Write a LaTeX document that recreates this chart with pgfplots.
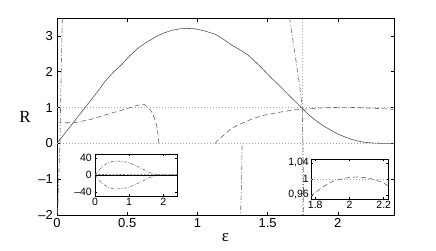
\documentclass[border=0pt]{standalone}
\usepackage{pgfplots}
\pgfplotsset{compat=1.18}
\usepackage{fontspec}
\setmainfont{Liberation Sans}
\newfontfamily\seriffont{Liberation Serif}
\definecolor{csolid}{gray}{0.33}
\definecolor{cdash}{gray}{0.40}
\definecolor{cdot}{gray}{0.65}
\definecolor{cdd}{gray}{0.42}
\pgfplotsset{
  solidc/.style={csolid, line width=0.6pt},
  dashc/.style={cdash, line width=0.6pt, dash pattern=on 5pt off 3pt},
  ddc/.style={cdd, line width=0.6pt, dash pattern=on 5pt off 2pt on 1pt off 2pt},
  dotc/.style={cdot, line width=0.6pt, dash pattern=on 1pt off 2pt},
}
\begin{document}
\begin{tikzpicture}
\useasboundingbox (0,0) rectangle (436pt,250pt);
\begin{axis}[
  at={(57pt,35pt)}, anchor=south west, scale only axis,
  width=337pt, height=197pt,
  xmin=0, xmax=2.4, ymin=-2, ymax=3.5,
  xtick={0,0.5,1,1.5,2}, xticklabels={0,0.5,1,1.5,2},
  ytick={-2,-1,0,1,2,3}, yticklabels={--2,--1,0,1,2,3},
  tick align=inside, major tick length=3.5pt,
  tick label style={font=\fontsize{13}{15}\selectfont},
  xticklabel style={inner sep=1pt, yshift=-2pt},
  yticklabel style={inner sep=1pt, xshift=-3pt},
  axis line style={black, line width=0.6pt},
  every tick/.style={black, line width=0.5pt},
  xlabel={\seriffont\fontsize{17}{18}\selectfont ε},
  xlabel style={at={(axis description cs:0.5,0)}, anchor=center, yshift=-23pt},
  ylabel={\seriffont\fontsize{17}{18}\selectfont R},
  ylabel style={at={(axis description cs:0,0.5)}, anchor=center, rotate=-90, xshift=-32pt},
  clip=true,
]
\addplot[dotc] coordinates {(0,1) (2.4,1)};
\addplot[dotc] coordinates {(0,0) (2.4,0)};
\addplot[dotc] coordinates {(1.75,-2) (1.75,3.5)};
\addplot[solidc] coordinates {
(0,0) (0.1,0.5) (0.2,1.0) (0.3,1.5) (0.34,1.72) (0.4,1.98) (0.46,2.2) (0.52,2.45)
(0.58,2.67) (0.64,2.83) (0.70,2.97) (0.76,3.08) (0.82,3.16) (0.88,3.2) (0.92,3.21)
(0.98,3.2) (1.05,3.14) (1.125,3.05) (1.18,2.92) (1.25,2.73) (1.3,2.62) (1.36,2.47)
(1.45,2.14) (1.52,1.85) (1.6,1.55) (1.67,1.27) (1.746,0.98) (1.8,0.77) (1.85,0.62)
(1.9,0.48) (1.955,0.36) (2.0,0.26) (2.05,0.18) (2.1,0.11) (2.15,0.06) (2.19,0.03)
(2.25,0.01) (2.31,0) (2.4,0)};
\addplot[dashc] coordinates {
(0,0.57) (0.13,0.58) (0.25,0.68) (0.34,0.79) (0.48,0.95) (0.58,1.07) (0.62,1.09)
(0.65,1.0) (0.674,0.88) (0.695,0.7) (0.71,0.5) (0.72,0.25) (0.725,0)};
\addplot[dashc] coordinates {
(1.125,0) (1.15,0.1) (1.24,0.41) (1.3,0.53) (1.4,0.7) (1.48,0.79) (1.6,0.88)
(1.7,0.94) (1.746,0.955) (1.77,0.958) (1.8,0.965) (1.9,0.994) (2.0,1.004)
(2.1,1.003) (2.2,0.99) (2.3,0.97) (2.4,0.95)};
\addplot[ddc] coordinates {(0.038,3.5) (0.03,2) (0.021,0) (0.012,-1) (0.004,-2)};
\addplot[ddc] coordinates {(1.318,-0.05) (1.315,-1) (1.307,-2)};
\addplot[ddc] coordinates {(1.656,3.5) (1.706,2.2) (1.73,1.55) (1.746,1.0) (1.752,0) (1.755,-1) (1.757,-2)};
\end{axis}
% inset 1
\begin{axis}[
  at={(95pt,54pt)}, anchor=south west, scale only axis,
  width=82pt, height=42pt,
  xmin=0, xmax=2.4, ymin=-50, ymax=50,
  xtick={0,1,2}, xticklabels={0,1,2},
  ytick={-40,0,40}, yticklabels={--40,0,40},
  tick align=inside, major tick length=2pt,
  tick label style={font=\fontsize{10.5}{12}\selectfont},
  xticklabel style={inner sep=1pt, yshift=-1pt},
  yticklabel style={inner sep=1pt, xshift=-2pt},
  axis line style={black, line width=0.6pt},
  every tick/.style={black, line width=0.5pt},
  axis background/.style={fill=white},
]
\addplot[ddc, dash pattern=on 3pt off 1.5pt on 0.8pt off 1.5pt] coordinates {
(0,0) (0.1,10) (0.2,19) (0.3,25) (0.4,29.5) (0.5,32) (0.6,33) (0.7,33) (0.8,32) (0.9,31)
(1.0,28.5) (1.1,25.5) (1.2,22) (1.3,18) (1.4,14) (1.5,10) (1.6,6) (1.7,3) (1.8,1) (1.9,0.3) (2.4,0)};
\addplot[ddc, dash pattern=on 3pt off 1.5pt on 0.8pt off 1.5pt] coordinates {
(0,0) (0.1,-10) (0.2,-19) (0.3,-25) (0.4,-29.5) (0.5,-32) (0.6,-33) (0.7,-33) (0.8,-32) (0.9,-31)
(1.0,-28.5) (1.1,-25.5) (1.2,-22) (1.3,-18) (1.4,-14) (1.5,-10) (1.6,-6) (1.7,-3) (1.8,-1) (1.9,-0.3) (2.4,0)};
\addplot[black, line width=0.6pt] coordinates {(0,0) (2.4,0)};
\addplot[dashc, dash pattern=on 2pt off 1.5pt] coordinates {(0,1) (0.6,1.5) (1.2,0.5) (1.8,1) (2.4,1)};
\end{axis}
% inset 2
\begin{axis}[
  at={(311pt,51pt)}, anchor=south west, scale only axis,
  width=77pt, height=40pt,
  xmin=1.775, xmax=2.225, ymin=0.95, ymax=1.05,
  xtick={1.8,2,2.2}, xticklabels={1.8,2,2.2},
  ytick={0.96,1,1.04}, yticklabels={0{,}96,1,1{,}04},
  tick align=inside, major tick length=2pt,
  tick label style={font=\fontsize{10.5}{12}\selectfont},
  xticklabel style={inner sep=1pt, yshift=-1pt},
  yticklabel style={inner sep=1pt, xshift=-1pt},
  axis line style={black, line width=0.6pt},
  every tick/.style={black, line width=0.5pt},
  axis background/.style={fill=white},
]
\addplot[dotc] coordinates {(1.775,1) (2.225,1)};
\addplot[dashc] coordinates {
(1.77,0.956) (1.8,0.966) (1.85,0.982) (1.9,0.994) (1.95,1.0) (2.0,1.004) (2.05,1.005)
(2.1,1.003) (2.15,0.998) (2.2,0.99) (2.225,0.983)};
\end{axis}
\end{tikzpicture}
\end{document}
